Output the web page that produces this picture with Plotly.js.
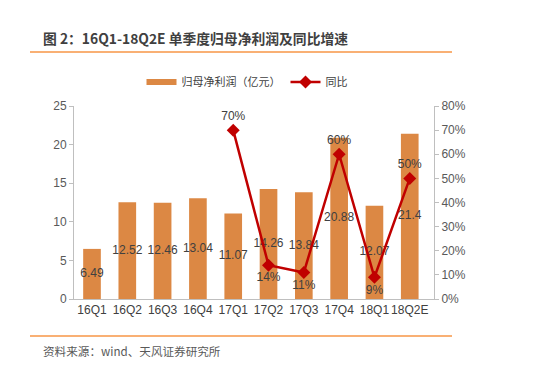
<!DOCTYPE html>
<html><head><meta charset="utf-8">
<script src="https://cdn.plot.ly/plotly-3.0.1.min.js"></script>
<style>html,body{margin:0;padding:0;background:#fff}#c{width:550px;height:376px}</style>
</head><body><div id="c"></div>
<script>
const categories = ['16Q1','16Q2','16Q3','16Q4','17Q1','17Q2','17Q3','17Q4','18Q1','18Q2E'];
const profit = [6.49,12.52,12.46,13.04,11.07,14.26,13.84,20.88,12.07,21.4];
const profitLabels = ['6.49','12.52','12.46','13.04','11.07','14.26','13.84','20.88','12.07','21.4'];
const yoyCats = ['17Q1','17Q2','17Q3','17Q4','18Q1','18Q2E'];
const yoy = [0.70,0.14,0.11,0.60,0.09,0.50];
const yoyLabels = ['70%','14%','11%','60%','9%','50%'];
const yoyPos = ['top center','bottom center','bottom center','top center','bottom center','top center'];

const font = "Liberation Sans, Arial, 'Noto Sans CJK SC', sans-serif";
const cjk = "'Noto Sans CJK SC', 'Liberation Sans', sans-serif";
const L=74, R=434, T=106, B=299;
const px = x => (x-L)/(R-L);
const py = y => (B-y)/(B-T);

const traces = [
 {type:'bar', x:categories, y:profit, name:'归母净利润（亿元）', width:0.5, showlegend:false,
  marker:{color:'#DC8844'}, hoverinfo:'none'},
 {type:'scatter', mode:'lines', x:[null], y:[null], name:'归母净利润（亿元）',
  line:{color:'#DC8844', width:6}},
 {type:'scatter', mode:'text', x:categories, y:profit.map(v=>v/2), text:profitLabels, showlegend:false,
  textposition:'middle center', textfont:{color:'#404040', size:12, family:font}, hoverinfo:'none'},
 {type:'scatter', mode:'lines+markers+text', x:yoyCats, y:yoy, yaxis:'y2', name:'同比',
  line:{color:'#C00000', width:2.5}, marker:{symbol:'diamond', size:10, color:'#C00000'},
  text:yoyLabels, textposition:yoyPos, textfont:{color:'#404040', size:12, family:font}, cliponaxis:false}
];

const layout = {
 width:550, height:376, margin:{l:L, r:550-R, t:T, b:376-B},
 paper_bgcolor:'#fff', plot_bgcolor:'#fff', font:{family:font, color:'#595959', size:12},
 showlegend:true,
 legend:{orientation:'h', x:px(247), xanchor:'center', y:py(82), yanchor:'middle',
   font:{family:cjk, size:11, color:'#404040'}, itemwidth:30, tracegroupgap:0},
 xaxis:{type:'category', showline:true, linecolor:'#BFBFBF', ticks:'', showgrid:false, tickangle:0,
   tickfont:{size:12, color:'#404040'}},
 yaxis:{range:[0,25], dtick:5, showline:true, linecolor:'#BFBFBF', ticks:'outside', ticklen:4,
   tickcolor:'#BFBFBF', showgrid:false, zeroline:false, tickfont:{size:12, color:'#595959'}},
 yaxis2:{overlaying:'y', side:'right', range:[0,0.8], dtick:0.1, tickformat:'.0%',
   showline:true, linecolor:'#BFBFBF', ticks:'outside', ticklen:4, tickcolor:'#BFBFBF',
   showgrid:false, zeroline:false, tickfont:{size:12, color:'#595959'}},
 shapes:[
  {type:'line', xref:'paper', yref:'paper', x0:px(30), x1:px(452), y0:py(52), y1:py(52), line:{color:'#F79646', width:1.5}},
  {type:'line', xref:'paper', yref:'paper', x0:px(30), x1:px(452), y0:py(336), y1:py(336), line:{color:'#F79646', width:1.5}}
 ],
 annotations:[
  {xref:'paper', yref:'paper', x:px(41), y:py(38), xanchor:'left', yanchor:'middle', showarrow:false,
   text:'<b>图 2：16Q1-18Q2E 单季度归母净利润及同比增速</b>', font:{family:cjk, size:13.8, color:'#404040'}},
  {xref:'paper', yref:'paper', x:px(41), y:py(351), xanchor:'left', yanchor:'middle', showarrow:false,
   text:'资料来源：wind、天风证券研究所', font:{family:cjk, size:11.6, color:'#595959'}}
 ]
};
Plotly.newPlot('c', traces, layout, {staticPlot:true});
</script></body></html>
